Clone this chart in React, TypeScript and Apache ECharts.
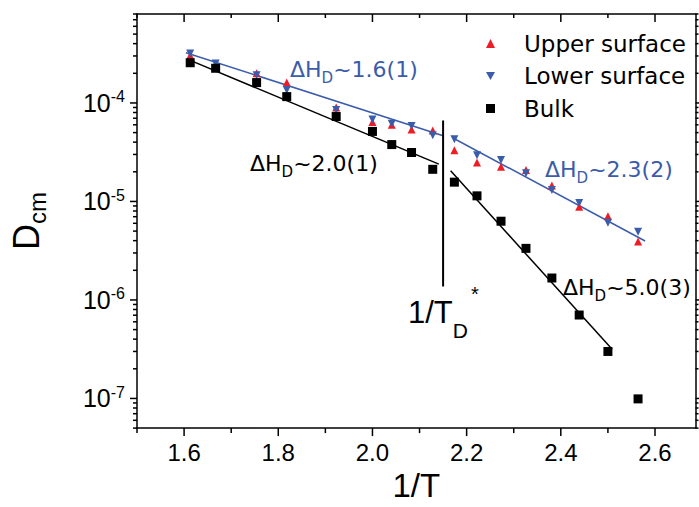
import React, { useEffect, useRef } from 'react';
import * as echarts from 'echarts';

// 1/T (x values)
const invT = [1.613, 1.667, 1.754, 1.818, 1.923, 2.0, 2.041, 2.083, 2.128, 2.174, 2.222, 2.273, 2.326, 2.381, 2.439, 2.5, 2.564];
// D values
const upperSurface = [3.04e-4, 2.41e-4, 2.0e-4, 1.61e-4, 9.0e-5, 6.4e-5, 6.0e-5, 5.39e-5, 5.26e-5, 3.31e-5, 2.49e-5, 2.25e-5, 2.08e-5, 1.45e-5, 8.85e-6, 7.08e-6, 3.91e-6];
const lowerSurface = [3.18e-4, 2.52e-4, 1.91e-4, 1.35e-4, 8.5e-5, 6.79e-5, 6.15e-5, 5.83e-5, 4.69e-5, 4.28e-5, 2.95e-5, 2.63e-5, 1.93e-5, 1.31e-5, 9.64e-6, 6.07e-6, 4.92e-6];
const bulk = [2.56e-4, 2.25e-4, 1.61e-4, 1.16e-4, 7.28e-5, 5.14e-5, 3.78e-5, 3.14e-5, 2.12e-5, 1.57e-5, 1.14e-5, 6.3e-6, 3.34e-6, 1.67e-6, 7.03e-7, 3.0e-7, 9.9e-8];

// fit lines [x, D]
const fitSurfaceHigh = [[1.604, 3.24e-4], [2.15, 4.65e-5]];
const fitSurfaceLow = [[2.171, 4.41e-5], [2.579, 3.97e-6]];
const fitBulkHigh = [[1.608, 2.77e-4], [2.141, 2.39e-5]];
const fitBulkLow = [[2.166, 2.05e-5], [2.509, 3.15e-7]];
const tdLine = [[2.15, 6.64e-5], [2.15, 1.37e-6]];

// axes
const xMin = 1.5;
const xMax = 2.686;
const yMin = 5e-8;
const yMax = 8e-4;
const xMajorTicks = [1.6, 1.8, 2.0, 2.2, 2.4, 2.6];
const xMinorTicks = [1.5, 1.7, 1.9, 2.1, 2.3, 2.5];
const yDecades = [1e-8, 1e-7, 1e-6, 1e-5, 1e-4];
const yMinorMultipliers = [2, 3, 4, 5, 6, 7, 8, 9];

const seriesNames = ['Upper surface', 'Lower surface', 'Bulk'];

const RED = '#ee1c25';
const BLUE = '#3b5caa';
const FONT = 'DejaVu Sans';
const TICK_FONT = 'Liberation Sans';

function buildTicks() {
  const t: number[][] = [];
  xMajorTicks.forEach((x) => {
    t.push([x, yMin, 0, 8]);
    t.push([x, yMax, 0, 8]);
  });
  xMinorTicks.forEach((x) => {
    t.push([x, yMin, 0, 5]);
    t.push([x, yMax, 0, 4]);
  });
  yDecades.forEach((d) => {
    if (d >= yMin && d <= yMax) {
      t.push([xMin, d, -7, 0]);
      t.push([xMax, d, 6, 0]);
    }
    yMinorMultipliers.forEach((m) => {
      const v = d * m;
      if (v >= yMin && v <= yMax) {
        t.push([xMin, v, -4, 0]);
        t.push([xMax, v, 3, 0]);
      }
    });
  });
  return t;
}

function annotation(text: string, color: string, x: number, y: number) {
  return {
    type: 'text',
    x,
    y,
    z: 100,
    style: {
      text,
      fill: color,
      align: 'left',
      textAlign: 'left',
      verticalAlign: 'middle',
      textVerticalAlign: 'middle',
      rich: {
        a: { fontSize: 22, lineHeight: 32, fontFamily: FONT, fill: color },
        s: { fontSize: 15, lineHeight: 15, verticalAlign: 'bottom', fontFamily: FONT, fill: color },
      },
    },
  };
}

export default function App() {
  const ref = useRef<HTMLDivElement>(null);
  useEffect(() => {
    if (!ref.current) return;
    const chart = echarts.init(ref.current, undefined, { renderer: 'svg' });
    const pts = (ys: number[]) => invT.map((x, i) => [x, ys[i]]);
    const axisLine = { show: true, lineStyle: { color: '#000', width: 1.5 } };
    const option: any = {
      animation: false,
      backgroundColor: '#fff',
      grid: { left: 134, right: 3.5, top: 14, bottom: 75, containLabel: false },
      legend: {
        data: seriesNames,
        orient: 'vertical',
        left: 481,
        top: 27,
        itemWidth: 9,
        itemHeight: 9,
        itemGap: 9.5,
        textStyle: { fontSize: 23, fontFamily: FONT, color: '#000', padding: [0, 0, 0, 24] },
      },
      xAxis: [
        {
          type: 'value',
          position: 'bottom',
          min: xMin,
          max: xMax,
          interval: 0.1,
          axisLine,
          axisTick: { show: false },
          splitLine: { show: false },
          name: '1/T',
          nameLocation: 'middle',
          nameGap: 40,
          nameTextStyle: { fontSize: 33, fontFamily: TICK_FONT, color: '#000' },
          axisLabel: {
            margin: 12,
            fontSize: 24,
            fontFamily: TICK_FONT,
            color: '#000',
            showMaxLabel: false,
            formatter: (v: number) => {
              const k = Math.round(v * 10);
              if (Math.abs(v * 10 - k) > 1e-6 || k % 2 !== 0) return '';
              return v.toFixed(1);
            },
          },
        },
        {
          type: 'value',
          position: 'top',
          min: xMin,
          max: xMax,
          interval: 0.1,
          axisLine,
          axisTick: { show: false },
          axisLabel: { show: false },
          splitLine: { show: false },
        },
      ],
      yAxis: [
        {
          type: 'log',
          logBase: 10,
          position: 'left',
          min: yMin,
          max: yMax,
          axisLine,
          axisTick: { show: false },
          splitLine: { show: false },
          name: '{d|D}{c|cm}',
          nameLocation: 'middle',
          nameRotate: 90,
          nameGap: 88,
          nameTextStyle: {
            rich: {
              d: { fontSize: 36, lineHeight: 46, fontFamily: TICK_FONT, color: '#000' },
              c: { fontSize: 24, lineHeight: 24, verticalAlign: 'bottom', fontFamily: TICK_FONT, color: '#000' },
            },
          },
          axisLabel: {
            margin: 12,
            showMinLabel: false,
            showMaxLabel: false,
            formatter: (v: number) => {
              const e = Math.log10(v);
              const k = Math.round(e);
              if (Math.abs(e - k) > 0.01) return '';
              return '{b|10}{s|' + k + '}';
            },
            rich: {
              b: { fontSize: 25, lineHeight: 28, fontFamily: TICK_FONT, color: '#000' },
              s: { fontSize: 16, lineHeight: 16, verticalAlign: 'top', fontFamily: TICK_FONT, color: '#000' },
            },
          },
        },
        {
          type: 'log',
          logBase: 10,
          position: 'right',
          min: yMin,
          max: yMax,
          axisLine,
          axisTick: { show: false },
          axisLabel: { show: false },
          splitLine: { show: false },
        },
      ],
      series: [
        {
          type: 'custom',
          name: 'ticks',
          silent: true,
          clip: false,
          data: buildTicks(),
          renderItem: (params: any, api: any) => {
            const p = api.coord([api.value(0), api.value(1)]);
            const dx = api.value(2);
            const dy = api.value(3);
            return {
              type: 'line',
              shape: { x1: p[0], y1: p[1], x2: p[0] + dx, y2: p[1] + dy },
              style: { stroke: '#000', lineWidth: 1.5 },
            };
          },
        },
        { type: 'line', data: fitSurfaceHigh, showSymbol: false, symbol: 'none', lineStyle: { color: BLUE, width: 1.5 }, z: 3 },
        { type: 'line', data: fitSurfaceLow, showSymbol: false, symbol: 'none', lineStyle: { color: BLUE, width: 1.5 }, z: 3 },
        { type: 'line', data: fitBulkHigh, showSymbol: false, symbol: 'none', lineStyle: { color: '#000', width: 1.5 }, z: 3 },
        { type: 'line', data: fitBulkLow, showSymbol: false, symbol: 'none', lineStyle: { color: '#000', width: 1.5 }, z: 3 },
        { type: 'line', data: tdLine, showSymbol: false, symbol: 'none', lineStyle: { color: '#000', width: 2 }, z: 3 },
        {
          type: 'scatter',
          name: seriesNames[0],
          data: pts(upperSurface),
          symbol: 'triangle',
          symbolSize: 8,
          itemStyle: { color: RED, opacity: 1 },
          z: 4,
        },
        {
          type: 'scatter',
          name: seriesNames[1],
          data: pts(lowerSurface),
          symbol: 'path://M0,0L10,0L5,9Z',
          symbolSize: 8,
          itemStyle: { color: BLUE, opacity: 1 },
          z: 5,
        },
        {
          type: 'scatter',
          name: seriesNames[2],
          data: pts(bulk),
          symbol: 'rect',
          symbolSize: 9,
          itemStyle: { color: '#000', opacity: 1 },
          z: 6,
        },
      ],
      graphic: [
        annotation('{a|ΔH}{s|D}{a|~1.6(1)}', BLUE, 290, 69),
        annotation('{a|ΔH}{s|D}{a|~2.0(1)}', '#000', 250, 163),
        annotation('{a|ΔH}{s|D}{a|~2.3(2)}', BLUE, 545, 169),
        annotation('{a|ΔH}{s|D}{a|~5.0(3)}', '#000', 563, 287),
        {
          type: 'text',
          x: 408,
          y: 312,
          z: 100,
          style: {
            text: '{m|1/T}{d|D}{t|*}',
            fill: '#000',
            align: 'left',
            textAlign: 'left',
            verticalAlign: 'middle',
            textVerticalAlign: 'middle',
            rich: {
              m: { fontSize: 31, lineHeight: 57, fontFamily: TICK_FONT, fill: '#000' },
              d: { fontSize: 21, lineHeight: 20, verticalAlign: 'bottom', fontFamily: TICK_FONT, fill: '#000' },
              t: { fontSize: 20, lineHeight: 30, verticalAlign: 'top', fontFamily: TICK_FONT, fill: '#000', padding: [0, 0, 0, 3] },
            },
          },
        },
      ],
    };
    chart.setOption(option);
    return () => chart.dispose();
  }, []);
  return (
    <div
      ref={ref}
      style={{ position: 'fixed', left: 0, top: 0, width: 699, height: 507, background: '#fff' }}
    />
  );
}
